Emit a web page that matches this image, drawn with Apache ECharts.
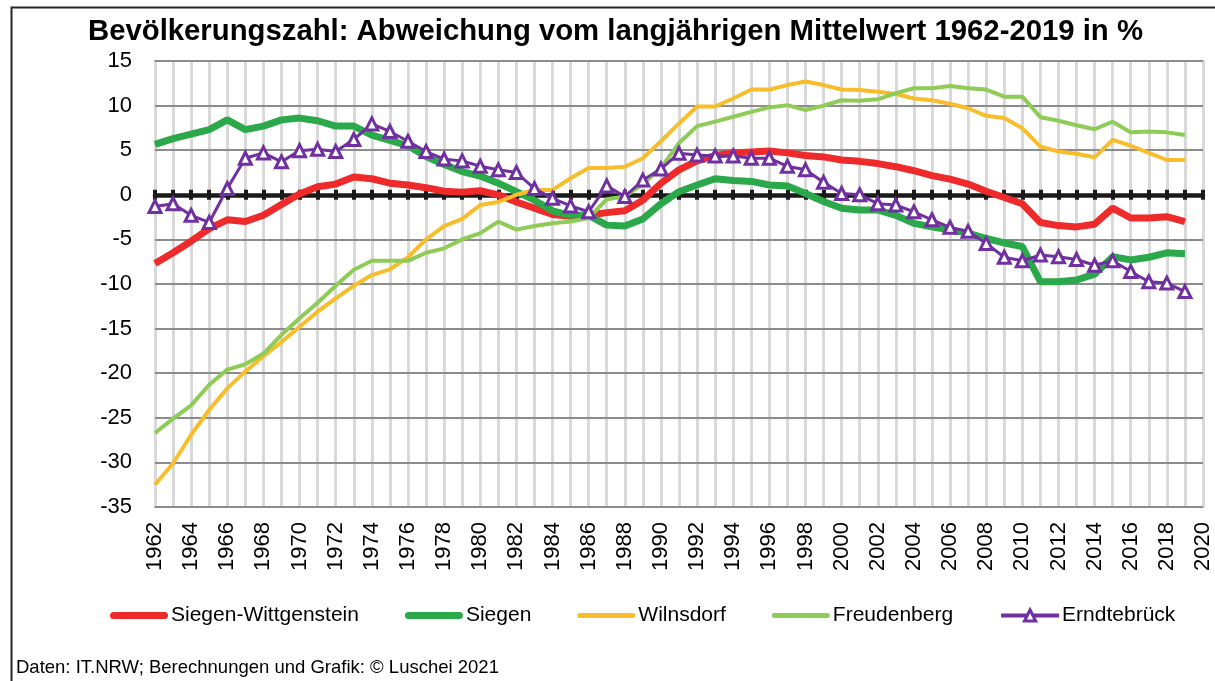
<!DOCTYPE html>
<html>
<head>
<meta charset="utf-8">
<script src="https://cdn.jsdelivr.net/npm/echarts@6/dist/echarts.min.js"></script>
<style>
  html, body { margin: 0; padding: 0; background: #fff; }
  #chart { width: 1215px; height: 681px; }
</style>
</head>
<body>
<div id="chart"></div>
<script>
// Jahre 1962-2020 (Kategorieachse)
var years = []
for (var y = 1962; y <= 2020; y++) years.push(String(y))

// Abweichung vom Mittelwert in %, 1962-2019
var siegenWittgenstein = [-7.7, -6.5, -5.2, -3.8, -2.8, -3.0, -2.3, -1.1, 0.1, 0.9,
  1.2, 2.0, 1.8, 1.3, 1.1, 0.8, 0.4, 0.3, 0.45, 0.0,
  -0.8, -1.5, -2.2, -2.4, -2.3, -2.0, -1.8, -0.6, 1.3, 2.8,
  3.8, 4.4, 4.7, 4.8, 4.9, 4.7, 4.4, 4.25, 3.9, 3.75,
  3.5, 3.15, 2.7, 2.15, 1.75, 1.2, 0.4, -0.3, -1.0, -3.1,
  -3.45, -3.6, -3.3, -1.5, -2.6, -2.6, -2.45, -3.0]
var siegen = [5.65, 6.3, 6.8, 7.3, 8.4, 7.3, 7.7, 8.4, 8.6, 8.3,
  7.7, 7.7, 6.7, 6.1, 5.5, 4.3, 3.4, 2.6, 2.1, 1.3,
  0.35, -0.6, -1.8, -2.3, -2.3, -3.4, -3.5, -2.7, -1.0, 0.35,
  1.1, 1.8, 1.6, 1.5, 1.1, 1.0, 0.15, -0.75, -1.5, -1.7,
  -1.7, -2.3, -3.2, -3.6, -3.95, -4.3, -4.9, -5.4, -5.8, -9.75,
  -9.75, -9.55, -8.9, -6.95, -7.3, -7.0, -6.5, -6.6]
var wilnsdorf = [-32.5, -30.1, -26.9, -24.1, -21.7, -19.8, -18.1, -16.5, -14.8, -13.1,
  -11.6, -10.2, -9.0, -8.35, -7.0, -5.0, -3.5, -2.7, -1.15, -0.8,
  0.0, 0.55, 0.55, 1.85, 3.0, 3.0, 3.15, 4.1, 6.0, 8.0,
  9.9, 9.9, 10.8, 11.8, 11.8, 12.3, 12.7, 12.3, 11.8, 11.75,
  11.55, 11.3, 10.8, 10.6, 10.2, 9.7, 8.85, 8.6, 7.45, 5.4,
  4.85, 4.6, 4.2, 6.15, 5.5, 4.7, 3.9, 3.9]
var freudenberg = [-26.7, -25.1, -23.6, -21.3, -19.6, -19.0, -17.8, -15.7, -13.85, -12.1,
  -10.2, -8.4, -7.4, -7.4, -7.4, -6.5, -6.0, -5.0, -4.3, -3.0,
  -3.9, -3.5, -3.2, -3.0, -2.6, -0.5, -0.2, 1.2, 3.0, 5.8,
  7.7, 8.2, 8.75, 9.3, 9.8, 10.05, 9.5, 10.0, 10.6, 10.55,
  10.7, 11.4, 11.95, 11.95, 12.2, 11.95, 11.8, 11.0, 11.0, 8.7,
  8.3, 7.8, 7.35, 8.2, 7.0, 7.1, 7.0, 6.7]
var erndtebrueck = [-1.3, -1.0, -2.3, -3.1, 0.7, 4.1, 4.7, 3.7, 4.95, 5.1,
  4.85, 6.2, 7.95, 7.1, 6.0, 4.85, 4.0, 3.8, 3.2, 2.8,
  2.5, 0.7, -0.4, -1.25, -1.9, 1.0, -0.2, 1.65, 2.9, 4.65,
  4.45, 4.35, 4.35, 4.1, 4.1, 3.2, 2.8, 1.4, 0.15, 0.0,
  -1.0, -1.15, -1.9, -2.8, -3.65, -4.1, -5.45, -7.0, -7.4, -6.75,
  -6.95, -7.25, -7.9, -7.4, -8.6, -9.75, -9.9, -10.85]

var fontFam = '"Liberation Sans", Arial, sans-serif'
var gridTop = 61
var gridHeight = 446
var yMin = -35
var yMax = 15
// Abstand der Nulllinie von der oberen Rahmenkante
var zeroOffset = gridHeight * yMax / (yMax - yMin)

// Legendensymbole: abgerundete Balken (dick / duenn)
var iconThick = 'path://M3.5,0 h51 a3.5,3.5 0 0 1 0,7 h-51 a3.5,3.5 0 0 1 0,-7 z'
var iconThin = 'path://M2.5,0 h53 a2.5,2.5 0 0 1 0,5 h-53 a2.5,2.5 0 0 1 0,-5 z'

var myChart = echarts.init(document.getElementById('chart'))
myChart.setOption({
  animation: false,
  backgroundColor: '#fff',
  textStyle: { fontFamily: fontFam },
  title: {
    text: 'Bevölkerungszahl: Abweichung vom langjährigen Mittelwert 1962-2019 in %',
    left: 83,
    top: 12,
    textStyle: { fontSize: 29.3, fontWeight: 'bold', color: '#000', fontFamily: fontFam }
  },
  graphic: [
    {
      type: 'rect',
      left: 9,
      top: 5,
      shape: { width: 1230, height: 700 },
      style: { fill: 'none', stroke: '#262626', lineWidth: 2 },
      silent: true
    },
    {
      type: 'text',
      left: 16,
      top: 658,
      style: { text: 'Daten: IT.NRW; Berechnungen und Grafik: © Luschei 2021', fontSize: 18.5, fill: '#000', fontFamily: fontFam }
    }
  ],
  grid: {
    left: 155,
    right: 12,
    top: gridTop,
    height: gridHeight,
    show: true,
    borderColor: '#595959',
    borderWidth: 1.5,
    containLabel: false
  },
  legend: {
    left: 105,
    top: 600,
    itemWidth: 58,
    itemHeight: 14,
    itemGap: 46,
    textStyle: { fontSize: 21, color: '#000', fontFamily: fontFam, padding: [0, 0, 0, -2] },
    data: [
      { name: 'Siegen-Wittgenstein', icon: iconThick },
      { name: 'Siegen', icon: iconThick },
      { name: 'Wilnsdorf', icon: iconThin },
      { name: 'Freudenberg', icon: iconThin },
      {
        name: 'Erndtebrück',
        lineStyle: { width: 4, color: '#7030A0' },
        itemStyle: { color: '#fff', borderColor: '#7030A0', borderWidth: 3 }
      }
    ]
  },
  xAxis: [
    {
      type: 'category',
      data: years,
      position: 'bottom',
      boundaryGap: false,
      z: 0,
      axisLine: { show: false, onZero: false },
      axisTick: { show: false },
      axisLabel: { rotate: 90, interval: 1, margin: 15, fontSize: 22, color: '#000', fontFamily: fontFam },
      splitLine: { show: true, interval: 0, lineStyle: { color: '#D9D9D9', width: 3 } }
    },
    {
      type: 'category',
      data: years,
      position: 'bottom',
      boundaryGap: false,
      z: 3,
      axisLine: { show: true, onZero: true, lineStyle: { color: '#1a1a1a', width: 4.5 } },
      axisTick: { show: true, interval: 0, length: 5, lineStyle: { color: '#1a1a1a', width: 4 } },
      axisLabel: { show: false },
      splitLine: { show: false }
    },
    {
      type: 'category',
      data: years,
      position: 'top',
      offset: -zeroOffset,
      boundaryGap: false,
      z: 3,
      axisLine: { show: false, onZero: false },
      axisTick: { show: true, interval: 0, length: 5, lineStyle: { color: '#1a1a1a', width: 4 } },
      axisLabel: { show: false },
      splitLine: { show: false }
    }
  ],
  yAxis: {
    type: 'value',
    min: yMin,
    max: yMax,
    interval: 5,
    z: 1,
    axisLine: { show: false },
    axisTick: { show: false },
    axisLabel: { fontSize: 22, color: '#000', margin: 23, fontFamily: fontFam },
    splitLine: { show: true, lineStyle: { color: '#8C8C8C', width: 2 } }
  },
  series: [
    {
      name: 'Siegen-Wittgenstein',
      type: 'line',
      data: siegenWittgenstein,
      symbol: 'none',
      z: 4,
      color: '#EE2A2A',
      lineStyle: { width: 7, color: '#EE2A2A' }
    },
    {
      name: 'Siegen',
      type: 'line',
      data: siegen,
      symbol: 'none',
      z: 4,
      color: '#2AA84A',
      lineStyle: { width: 7, color: '#2AA84A' }
    },
    {
      name: 'Wilnsdorf',
      type: 'line',
      data: wilnsdorf,
      symbol: 'none',
      z: 4,
      color: '#F7BD2C',
      lineStyle: { width: 4, color: '#F7BD2C' }
    },
    {
      name: 'Freudenberg',
      type: 'line',
      data: freudenberg,
      symbol: 'none',
      z: 4,
      color: '#8FCB57',
      lineStyle: { width: 4, color: '#8FCB57' }
    },
    {
      name: 'Erndtebrück',
      type: 'line',
      data: erndtebrueck,
      symbol: 'triangle',
      symbolSize: 12,
      showAllSymbol: true,
      z: 5,
      color: '#7030A0',
      lineStyle: { width: 3, color: '#7030A0' },
      itemStyle: { color: '#fff', borderColor: '#7030A0', borderWidth: 3 }
    }
  ]
})
</script>
</body>
</html>
